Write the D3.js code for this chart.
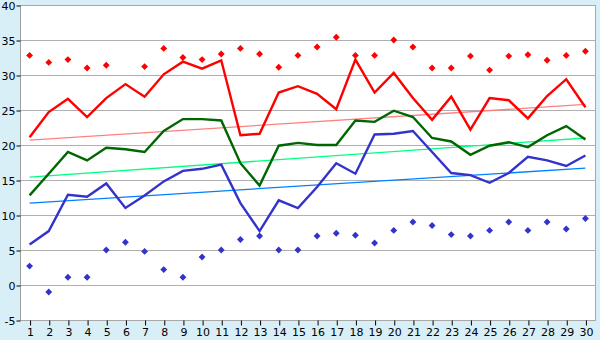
<!DOCTYPE html>
<html>
<head>
<meta charset="utf-8">
<script src="https://cdn.jsdelivr.net/npm/d3@7"></script>
<style>
  body { margin: 0; background: #d9eff7; }
  svg { display: block; }
  .axis text { font-family: "DejaVu Sans", Verdana, sans-serif; font-size: 11px; fill: #000; }
  .axis path { display: none; }
  .axis line { stroke: #000; }
</style>
</head>
<body>
<div id="chartDiv"></div>
<script>
// categories 1..30
let days = d3.range(1, 31);
let yTicks = [-5, 0, 5, 10, 15, 20, 25, 30, 35, 40];

// main lines
let redLine = [21.1, 24.7, 26.6, 24.0, 26.7, 28.7, 26.9, 30.1, 31.9, 30.9, 32.1, 21.4, 21.6, 27.5, 28.4,
               27.3, 25.1, 32.2, 27.5, 30.3, 26.7, 23.6, 26.9, 22.2, 26.7, 26.4, 23.8, 27.0, 29.4, 25.4];
let greenLine = [12.8, 15.9, 19.0, 17.8, 19.6, 19.4, 19.0, 22.0, 23.7, 23.7, 23.5, 17.4, 14.2, 19.9, 20.3,
                 20.0, 20.0, 23.5, 23.3, 24.9, 24.0, 21.0, 20.5, 18.6, 19.9, 20.4, 19.7, 21.4, 22.7, 20.8];
let blueLine = [5.8, 7.7, 12.9, 12.6, 14.5, 11.0, 12.8, 14.8, 16.3, 16.6, 17.2, 11.7, 7.7, 12.1, 11.0,
                14.0, 17.4, 15.9, 21.5, 21.6, 22.0, 19.0, 16.0, 15.7, 14.6, 16.0, 18.3, 17.8, 17.0, 18.5];

// scatter points
let redPoints = [32.8, 31.8, 32.2, 31.0, 31.4, null, 31.2, 33.8, 32.5, 32.2, 33.0, 33.8, 33.0, 31.1, 32.8,
                 34.0, 35.4, 32.8, 32.8, 35.0, 34.0, 31.0, 31.0, 32.7, 30.7, 32.7, 32.9, 32.1, 32.8, 33.4];
let bluePoints = [2.7, -1.0, 1.1, 1.1, 5.0, 6.1, 4.8, 2.2, 1.1, 4.0, 5.0, 6.5, 7.0, 5.0, 5.0,
                  7.0, 7.4, 7.1, 6.0, 7.8, 9.0, 8.5, 7.2, 7.0, 7.8, 9.0, 7.8, 9.0, 8.0, 9.5];

// trend lines (value at day 1 and day 30)
let redTrend = [20.7, 25.8];
let greenTrend = [15.4, 21.0];
let blueTrend = [11.7, 16.7];

let svgWidth = 600, svgHeight = 340;
let plotLeft = 20, plotRight = 595, plotTop = 5, plotBottom = 320;

let svg = d3.select("#chartDiv").append("svg")
    .attr("width", svgWidth)
    .attr("height", svgHeight);

let xScale = d3.scalePoint()
    .domain(days)
    .range([plotLeft, plotRight])
    .padding(0.5);

let yScale = d3.scaleLinear()
    .domain([-5, 40])
    .range([plotBottom, plotTop]);

// plot background
svg.append("rect")
    .attr("x", plotLeft + 0.5).attr("y", plotTop + 0.5)
    .attr("width", plotRight - plotLeft).attr("height", plotBottom - plotTop)
    .attr("fill", "#fff")
    .attr("stroke", "#a8a8a8");

// gridlines
svg.append("g").selectAll("line")
    .data(yTicks.slice(1, -1))
    .enter().append("line")
    .attr("x1", plotLeft).attr("x2", plotRight)
    .attr("y1", d => Math.round(yScale(d)) + 0.5)
    .attr("y2", d => Math.round(yScale(d)) + 0.5)
    .attr("stroke", "#b0b0b0");

// left axis line
svg.append("line")
    .attr("x1", plotLeft + 0.5).attr("x2", plotLeft + 0.5)
    .attr("y1", plotTop).attr("y2", plotBottom + 1)
    .attr("stroke", "#a0a0a0");

let yAxis = d3.axisLeft(yScale)
    .tickValues(yTicks)
    .tickFormat(d => String(d))
    .tickSize(4).tickPadding(1);
svg.append("g")
    .attr("class", "axis")
    .attr("transform", "translate(" + (plotLeft + 0.5) + ",0.5)")
    .call(yAxis);

let xAxis = d3.axisBottom(xScale).tickSize(5).tickPadding(3);
svg.append("g")
    .attr("class", "axis")
    .attr("transform", "translate(0.5," + (plotBottom + 0.5) + ")")
    .call(xAxis);

// trend lines
let trendData = [
    {vals: redTrend, color: "#ff8080"},
    {vals: greenTrend, color: "#00ff80"},
    {vals: blueTrend, color: "#0080ff"}
];
svg.append("g").selectAll("line")
    .data(trendData)
    .enter().append("line")
    .attr("x1", xScale(days[0])).attr("x2", xScale(days[days.length - 1]))
    .attr("y1", d => yScale(d.vals[0])).attr("y2", d => yScale(d.vals[1]))
    .attr("stroke", d => d.color)
    .attr("stroke-width", 1.3);

let valueline = d3.line()
    .x((d, i) => xScale(days[i]))
    .y(d => yScale(d));

let lineData = [
    {vals: blueLine, color: "#3333cc"},
    {vals: greenLine, color: "#006600"},
    {vals: redLine, color: "#ff0000"}
];
svg.append("g").selectAll("path")
    .data(lineData)
    .enter().append("path")
    .attr("d", d => valueline(d.vals))
    .attr("fill", "none")
    .attr("stroke", d => d.color)
    .attr("stroke-width", 2.4);

// scatter diamonds
let diamond = d3.symbol().type(d3.symbolDiamond2).size(30);
let pointData = [
    {vals: redPoints, color: "#ff0000"},
    {vals: bluePoints, color: "#3333cc"}
];
pointData.forEach(function(s) {
    svg.append("g").selectAll("path")
        .data(s.vals.map((v, i) => ({day: days[i], v: v})).filter(d => d.v !== null))
        .enter().append("path")
        .attr("d", diamond)
        .attr("transform", d => "translate(" + xScale(d.day) + "," + yScale(d.v) + ")")
        .attr("fill", s.color);
});
</script>
</body>
</html>
